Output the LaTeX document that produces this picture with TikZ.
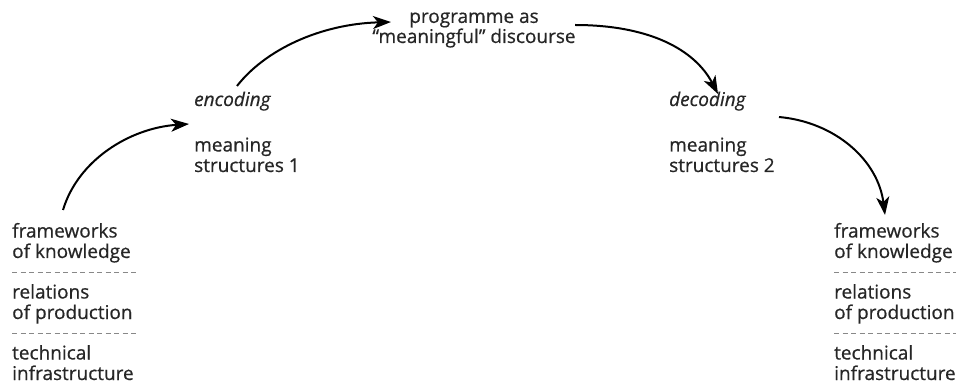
\documentclass[tikz,border=0pt]{standalone}
\usepackage{fontspec}
\setmainfont{Open Sans}[FakeBold=0.6, ItalicFeatures={FakeBold=0.6}]
\usetikzlibrary{arrows.meta}
\definecolor{txt}{HTML}{262626}
\tikzset{
  lbl/.style={anchor=base west, inner sep=0pt, align=left, text=txt,
    font=\fontsize{19}{20.5}\selectfont},
  flow/.style={line width=2pt, -{Stealth[length=18pt,width=13pt,inset=5pt]}},
  sep/.style={dash pattern=on 5pt off 3.5pt, line width=0.9pt, draw=txt!55}
}
\begin{document}
\begin{tikzpicture}[x=1pt,y=-1pt]
\useasboundingbox (0,0) rectangle (960,387);
% left block (base = baseline of last line)
\node[lbl] (lf) at (12,258) {frameworks\\of knowledge};
\node[lbl] (lr) at (12,319) {relations\\of production};
\node[lbl] (lt) at (12,380) {technical\\infrastructure};
\coordinate (ld1a) at (12,272); \coordinate (ld1b) at (136,272);
\coordinate (ld2a) at (12,333); \coordinate (ld2b) at (136,333);
\draw[sep] (ld1a) -- (ld1b);
\draw[sep] (ld2a) -- (ld2b);
% right block
\node[lbl] (rf) at (834,258) {frameworks\\of knowledge};
\node[lbl] (rr) at (834,319) {relations\\of production};
\node[lbl] (rt) at (834,380) {technical\\infrastructure};
\coordinate (rd1a) at (834,272); \coordinate (rd1b) at (956,272);
\coordinate (rd2a) at (834,333); \coordinate (rd2b) at (956,333);
\draw[sep] (rd1a) -- (rd1b);
\draw[sep] (rd2a) -- (rd2b);
% middle
\node[lbl, font=\fontsize{19}{20.5}\selectfont\itshape] (enc) at (194,106) {encoding};
\node[lbl] (ms1) at (194,172) {meaning\\structures 1};
\node[lbl, font=\fontsize{19}{20.5}\selectfont\itshape] (dec) at (669,106) {decoding};
\node[lbl] (ms2) at (669,172) {meaning\\structures 2};
\node[anchor=base, inner sep=0pt, align=center, text=txt,
  font=\fontsize{19}{19}\selectfont] (prog) at (474,43) {programme as\\\char"201Cmeaningful\char"201D{} discourse};
% arrows
\coordinate (a1s) at (63,210);
\coordinate (a1e) at (189,124);
\coordinate (a2s) at (237,86);
\coordinate (a2e) at (391,22);
\coordinate (a3s) at (575,25);
\coordinate (a3e) at (718,94);
\coordinate (a4s) at (779,117);
\coordinate (a4e) at (885,215);
\draw[flow] (a1s) .. controls (78,160) and (130,128) .. (a1e);
\draw[flow] (a2s) .. controls (265,50) and (320,24) .. (a2e);
\draw[flow] (a3s) .. controls (650,25) and (695,50) .. (a3e);
\draw[flow] (a4s) .. controls (835,122) and (878,160) .. (a4e);
\end{tikzpicture}
\end{document}
